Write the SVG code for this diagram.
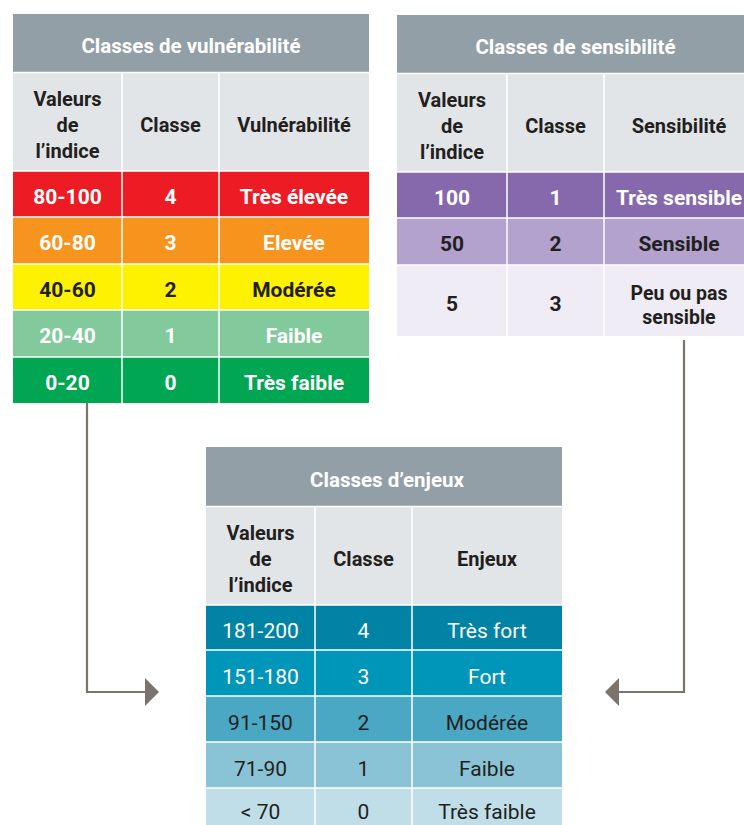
<svg xmlns="http://www.w3.org/2000/svg" width="744" height="825" viewBox="0 0 744 825">
<style>
text{font-family:Roboto,"Open Sans","DejaVu Sans",sans-serif;text-anchor:middle}
.t{font-size:20.5px;font-weight:700;fill:#ffffff}
.h{font-size:20px;font-weight:700;fill:#231f20}
.d{font-size:21px;font-weight:700}
.r{font-size:21px;font-weight:400}
.w{fill:#ffffff}
.k{fill:#231f20}
.ttl{fill:#929fa7}
.hdr{fill:#e2e5e8}
.g{stroke:#ffffff;stroke-width:1.5;fill:none}
.c{stroke:#7b736e;stroke-width:2.2;fill:none}
.ah{fill:#7b736e}
</style>

<g id="vulnerabilite">
<rect class="ttl" x="13" y="14" width="356" height="59"/>
<rect class="hdr" x="13" y="73" width="356" height="98"/>
<rect fill="#ed1c24" x="13" y="171" width="356" height="46"/>
<rect fill="#f7941d" x="13" y="217" width="356" height="47"/>
<rect fill="#fff200" x="13" y="264" width="356" height="46"/>
<rect fill="#82ca9c" x="13" y="310" width="356" height="47"/>
<rect fill="#00a651" x="13" y="357" width="356" height="46"/>
<path class="g" d="M13,72.5H369M13,171H369M13,217H369M13,264H369M13,310H369M13,357H369M122,73V403M219,73V403"/>
<text class="t" x="191" y="53">Classes de vulnérabilité</text>
<text class="h" x="67.5" y="106">Valeurs</text>
<text class="h" x="67.5" y="132">de</text>
<text class="h" x="67.5" y="158">l’indice</text>
<text class="h" x="170.5" y="132">Classe</text>
<text class="h" x="294" y="132">Vulnérabilité</text>
<g class="d w">
<text x="67.5" y="204">80-100</text><text x="170.5" y="204">4</text><text x="294" y="204">Très élevée</text>
<text x="67.5" y="250">60-80</text><text x="170.5" y="250">3</text><text x="294" y="250">Elevée</text>
</g>
<g class="d k">
<text x="67.5" y="297">40-60</text><text x="170.5" y="297">2</text><text x="294" y="297">Modérée</text>
</g>
<g class="d w">
<text x="67.5" y="343">20-40</text><text x="170.5" y="343">1</text><text x="294" y="343">Faible</text>
<text x="67.5" y="390">0-20</text><text x="170.5" y="390">0</text><text x="294" y="390">Très faible</text>
</g>
</g>

<g id="sensibilite">
<rect class="ttl" x="397" y="15" width="357" height="59"/>
<rect class="hdr" x="397" y="74" width="357" height="98"/>
<rect fill="#8669ad" x="397" y="172" width="357" height="46"/>
<rect fill="#b3a2ce" x="397" y="218" width="357" height="47"/>
<rect fill="#efecf5" x="397" y="265" width="357" height="71"/>
<path class="g" d="M397,73.5H754M397,172H754M397,218H754M397,265H754M507,74V336M604,74V336"/>
<text class="t" x="575.5" y="54">Classes de sensibilité</text>
<text class="h" x="452" y="107">Valeurs</text>
<text class="h" x="452" y="133">de</text>
<text class="h" x="452" y="159">l’indice</text>
<text class="h" x="555.5" y="133">Classe</text>
<text class="h" x="679" y="133">Sensibilité</text>
<g class="d w">
<text x="452" y="205">100</text><text x="555.5" y="205">1</text><text x="679" y="205">Très sensible</text>
</g>
<g class="d k">
<text x="452" y="251">50</text><text x="555.5" y="251">2</text><text x="679" y="251">Sensible</text>
<text x="452" y="311">5</text><text x="555.5" y="311">3</text>
<text x="679" y="300" style="font-size:19.5px">Peu ou pas</text>
<text x="679" y="324" style="font-size:19.5px">sensible</text>
</g>
</g>

<g id="enjeux">
<rect class="ttl" x="206" y="447" width="356" height="59"/>
<rect class="hdr" x="206" y="507" width="356" height="98"/>
<rect fill="#0083a5" x="206" y="605" width="356" height="45"/>
<rect fill="#0096b9" x="206" y="650" width="356" height="46"/>
<rect fill="#4aa8c4" x="206" y="696" width="356" height="46"/>
<rect fill="#8bc3d6" x="206" y="742" width="356" height="46"/>
<rect fill="#c0dee8" x="206" y="788" width="356" height="46"/>
<path class="g" d="M206,506.5H562M206,605H562M206,650H562M206,696H562M206,742H562M206,788H562M315,507V834M412,507V834"/>
<text class="t" x="387" y="487">Classes d’enjeux</text>
<text class="h" x="260.5" y="540">Valeurs</text>
<text class="h" x="260.5" y="566">de</text>
<text class="h" x="260.5" y="592">l’indice</text>
<text class="h" x="363.5" y="566">Classe</text>
<text class="h" x="487" y="566">Enjeux</text>
<g class="r w">
<text x="260.5" y="638">181-200</text><text x="363.5" y="638">4</text><text x="487" y="638">Très fort</text>
<text x="260.5" y="684">151-180</text><text x="363.5" y="684">3</text><text x="487" y="684">Fort</text>
</g>
<g class="r k">
<text x="260.5" y="730">91-150</text><text x="363.5" y="730">2</text><text x="487" y="730">Modérée</text>
<text x="260.5" y="776">71-90</text><text x="363.5" y="776">1</text><text x="487" y="776">Faible</text>
<text x="260.5" y="819">&lt; 70</text><text x="363.5" y="819">0</text><text x="487" y="819">Très faible</text>
</g>
</g>

<g id="connecteurs">
<path class="c" d="M87,403V692H146"/>
<polygon class="ah" points="145,678 159,692 145,706"/>
<path class="c" d="M684,340V692H618"/>
<polygon class="ah" points="619,678 605,692 619,706"/>
</g>
</svg>
